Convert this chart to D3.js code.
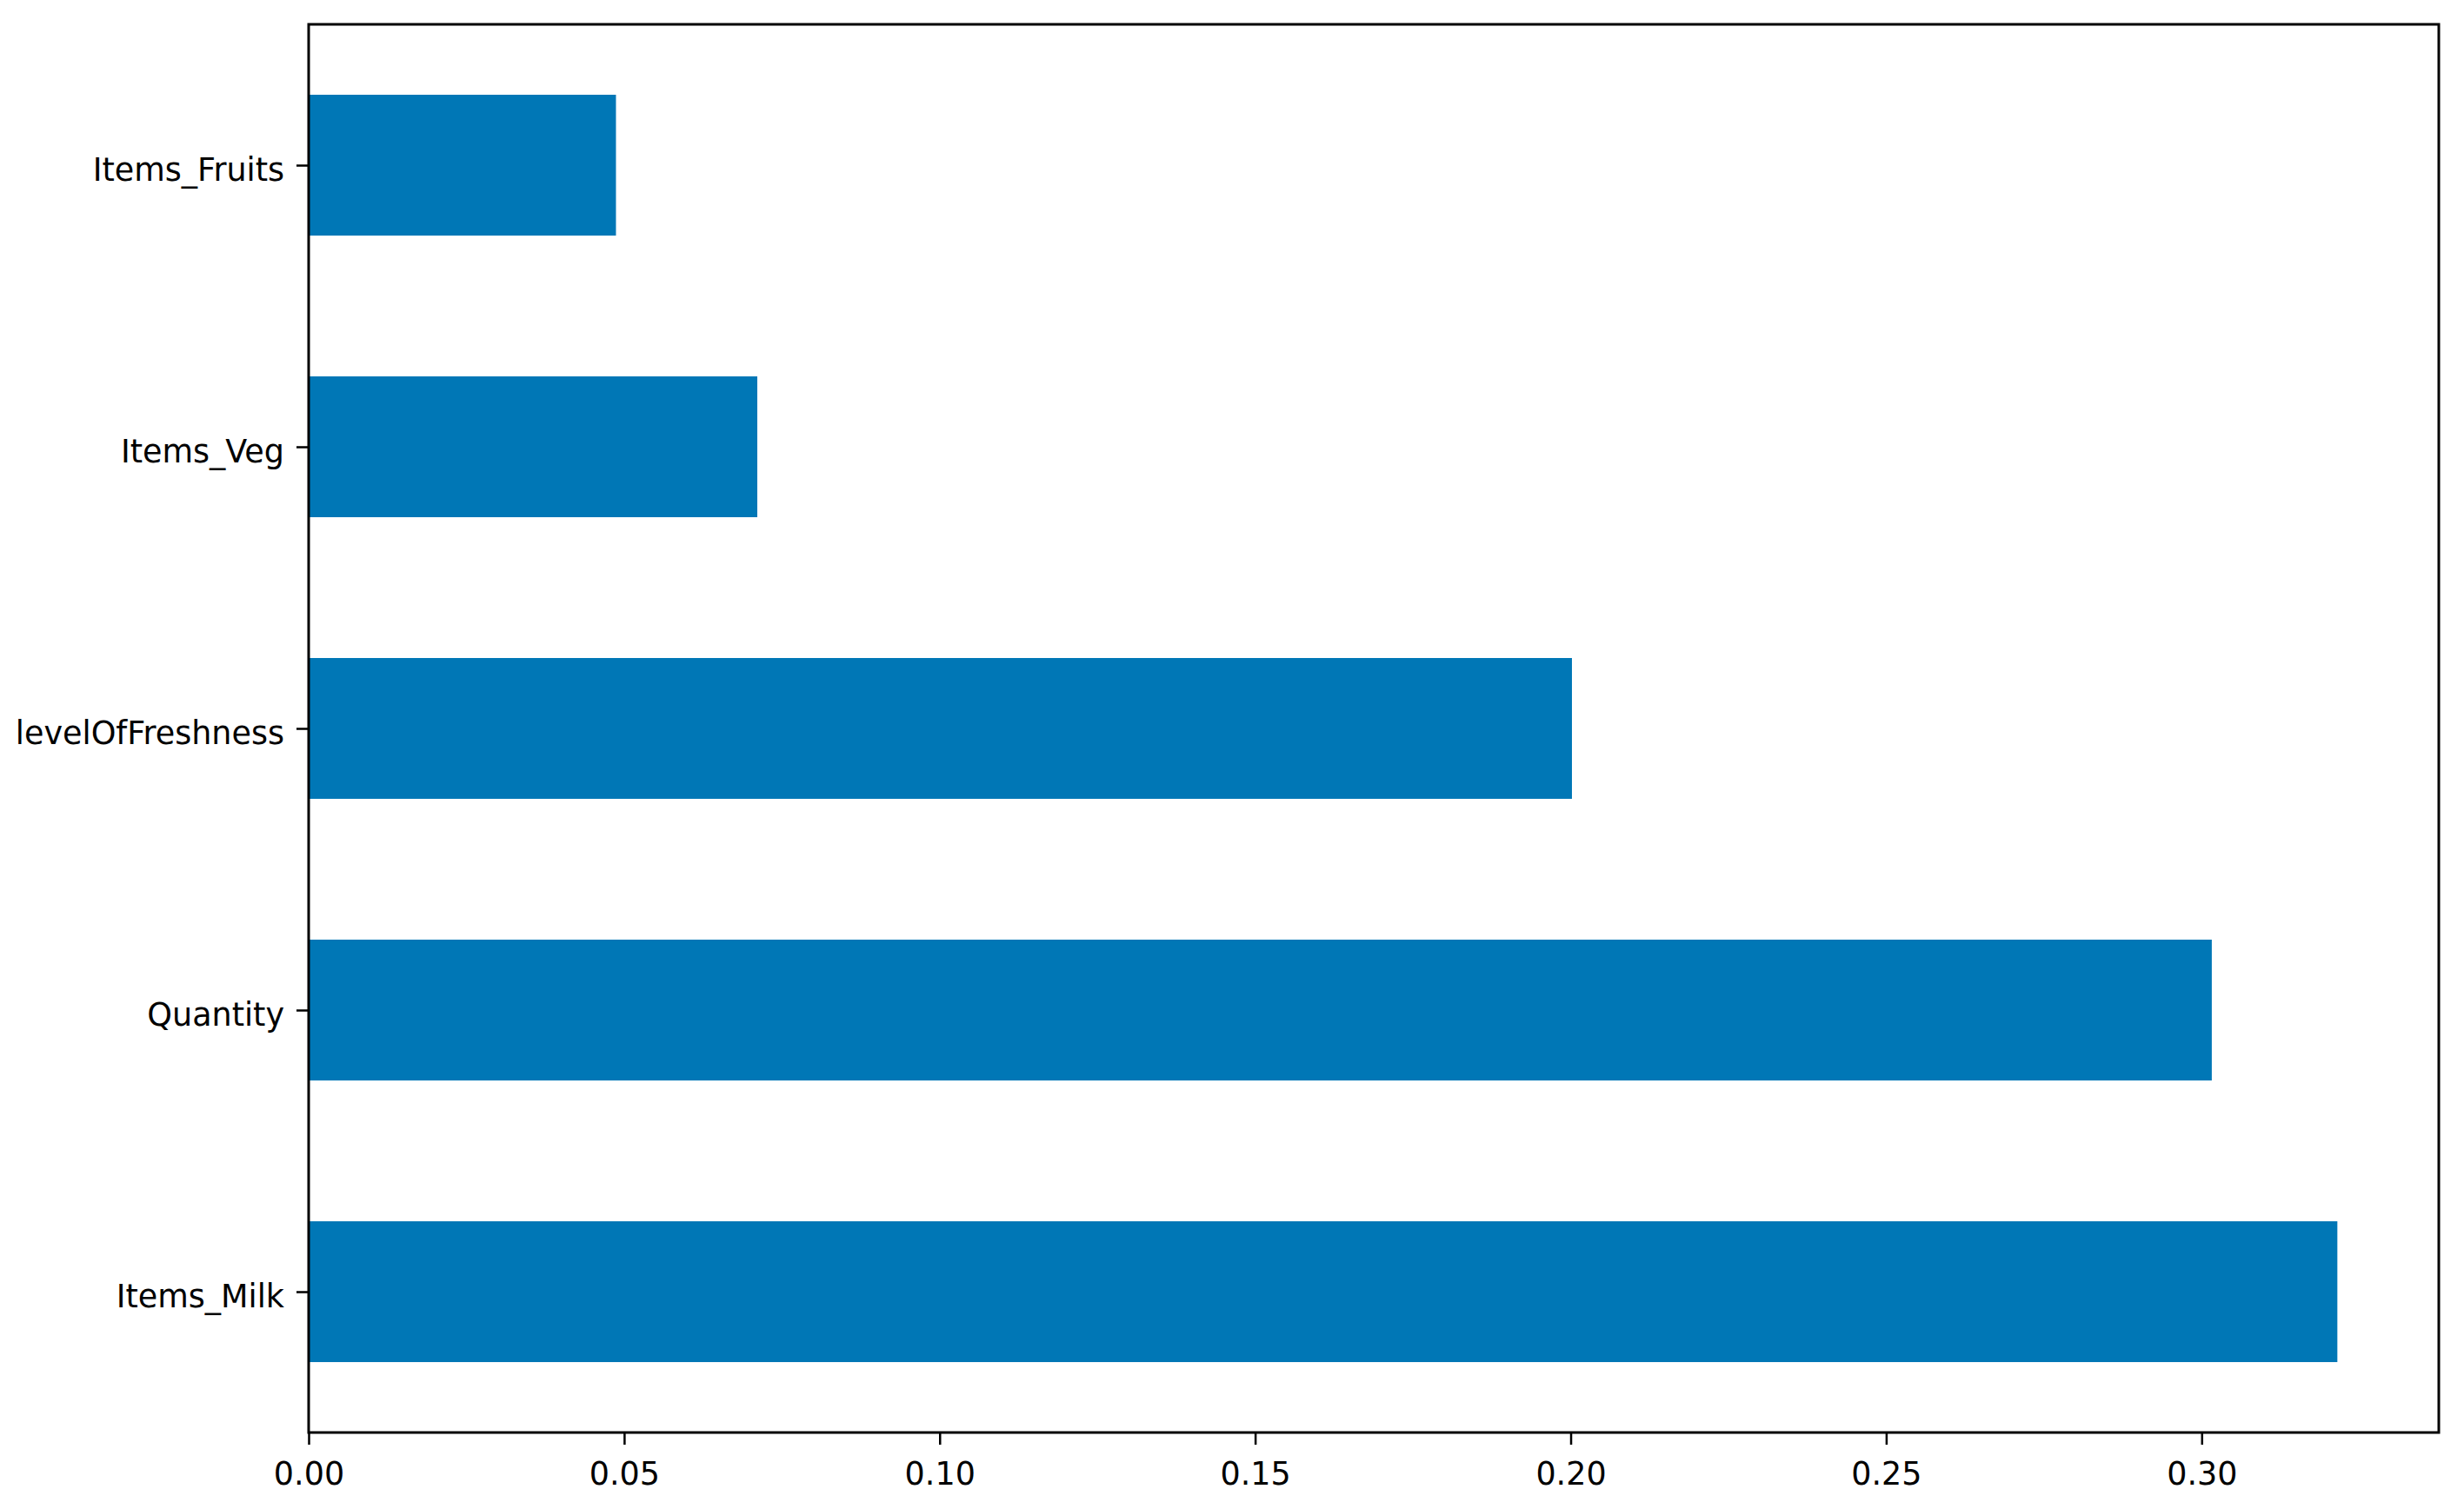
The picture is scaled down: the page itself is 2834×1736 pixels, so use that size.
<!DOCTYPE html>
<html><head><meta charset="utf-8">
<script src="https://cdn.jsdelivr.net/npm/d3@7"></script>
<style>html,body{margin:0;padding:0;background:#fff;}</style>
</head><body>
<svg id="chart" width="2834" height="1736"></svg>
<script>
const categories = ["Items_Milk", "Quantity", "levelOfFreshness", "Items_Veg", "Items_Fruits"];
const values = [0.3215, 0.3016, 0.2002, 0.0711, 0.0487];
const xTicks = [0.00, 0.05, 0.10, 0.15, 0.20, 0.25, 0.30];

const W = 2834, H = 1736;
const m = {left: 355, right: 2805, top: 28, bottom: 1648};
const svg = d3.select("#chart");
const font = "'DejaVu Sans', sans-serif";
const fs = 36.5;

const xMax = d3.max(values) * 1.05;
const x = d3.scaleLinear().domain([0, xMax]).range([m.left, m.right]);
// category index positions, pandas-style limits (-0.5, n-0.5)
const y = d3.scaleLinear().domain([-0.5, categories.length - 0.5]).range([m.bottom, m.top]);
const barH = 0.5;

svg.append("g").selectAll("rect").data(values).join("rect")
  .attr("x", x(0))
  .attr("y", (d, i) => y(i + barH / 2))
  .attr("width", d => x(d) - x(0))
  .attr("height", (d, i) => y(i - barH / 2) - y(i + barH / 2))
  .attr("fill", "#0077b6");

const xAxis = d3.axisBottom(x).tickValues(xTicks).tickFormat(d3.format(".2f")).tickSize(14).tickPadding(20);
const gx = svg.append("g").attr("transform", `translate(0,${m.bottom})`).call(xAxis);
gx.select(".domain").remove();
gx.selectAll(".tick line").attr("stroke", "#000").attr("stroke-width", 2.5);
gx.selectAll(".tick text").attr("font-family", font).attr("font-size", fs).attr("fill", "#000");

const yAxis = d3.axisLeft(y).tickValues(d3.range(categories.length)).tickFormat(i => categories[i]).tickSize(14).tickPadding(14);
const gy = svg.append("g").attr("transform", `translate(${m.left},0)`).call(yAxis);
gy.select(".domain").remove();
gy.selectAll(".tick line").attr("stroke", "#000").attr("stroke-width", 2.5);
gy.selectAll(".tick text").attr("font-family", font).attr("font-size", fs).attr("fill", "#000").attr("dy", "0.48em");

svg.append("rect")
  .attr("x", m.left).attr("y", m.top)
  .attr("width", m.right - m.left).attr("height", m.bottom - m.top)
  .attr("fill", "none").attr("stroke", "#000").attr("stroke-width", 3);
</script>
</body></html>
